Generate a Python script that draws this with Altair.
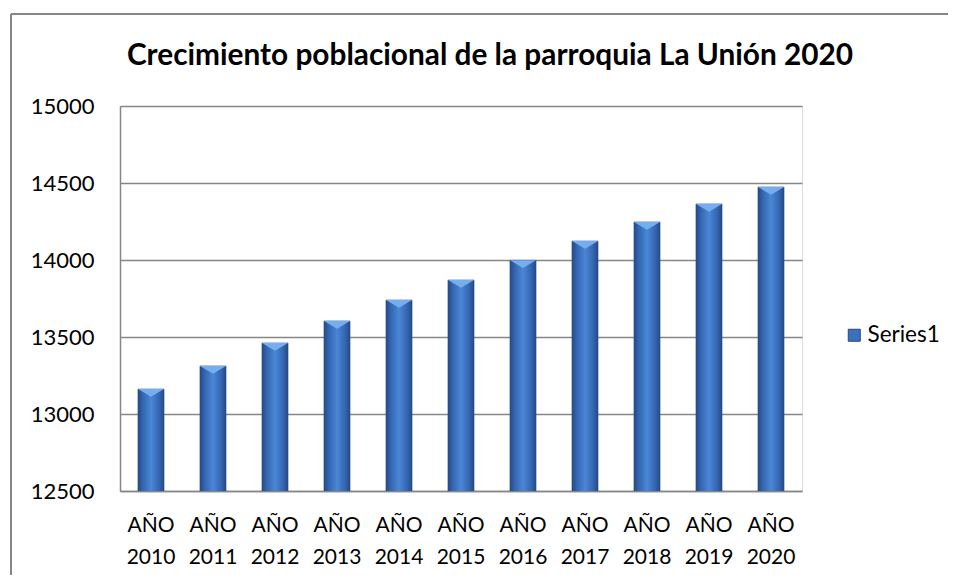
import altair as alt
import pandas as pd

years = ["AÑO 2010", "AÑO 2011", "AÑO 2012", "AÑO 2013", "AÑO 2014", "AÑO 2015",
         "AÑO 2016", "AÑO 2017", "AÑO 2018", "AÑO 2019", "AÑO 2020"]
values = [13162, 13312, 13461, 13604, 13740, 13870, 13998, 14123, 14247, 14364, 14474]
series = ["Series1"] * len(years)
y_ticks = [12500, 13000, 13500, 14000, 14500, 15000]
title_text = "Crecimiento poblacional de la parroquia La Unión 2020"

df = pd.DataFrame({"year": years, "value": values, "series": series})

FONT = "Lato"
W, H = 682, 385

x_enc = alt.X("year:N", sort=years, title=None,
              scale=alt.Scale(paddingInner=0.58, paddingOuter=0.29),
              axis=alt.Axis(labelAngle=0, labelExpr="split(datum.label, ' ')",
                            labelFontSize=21, labelFont=FONT, labelColor="#000000",
                            labelLineHeight=32, labelPadding=23, ticks=False,
                            domainColor="#868686", domainWidth=1.5, grid=False))
y_enc = alt.Y("value:Q", title=None,
              scale=alt.Scale(domain=[12500, 15000], nice=False, zero=False),
              axis=alt.Axis(values=y_ticks, format="d", labelFontSize=22, labelFont=FONT,
                            labelColor="#000000", labelPadding=26, ticks=False,
                            domainColor="#868686", domainWidth=1.5,
                            gridColor="#868686", gridWidth=1.5))

base = alt.Chart(df)

legend_bars = base.mark_bar(clip=True).encode(
    x=x_enc, y=y_enc,
    color=alt.Color("series:N", title=None,
                    scale=alt.Scale(range=["#3a70bd"]),
                    legend=alt.Legend(orient="none", legendX=723, legendY=218,
                                      symbolType="square", symbolSize=144,
                                      symbolStrokeColor="#24487f", symbolStrokeWidth=1,
                                      labelFontSize=22.5, labelFont=FONT, labelColor="#000000",
                                      labelOffset=2)),
)

grad = alt.Gradient(
    gradient="linear", x1=0, x2=1, y1=0, y2=0,
    stops=[alt.GradientStop(color="#254a85", offset=0),
           alt.GradientStop(color="#3465b0", offset=0.18),
           alt.GradientStop(color="#4a87d6", offset=0.5),
           alt.GradientStop(color="#3465b0", offset=0.82),
           alt.GradientStop(color="#254a85", offset=1)])

grad_bars = base.mark_bar(fill=grad, stroke="#2a4f8a", strokeWidth=0.6, clip=True).encode(
    x=x_enc, y=y_enc)

caps = base.mark_point(shape="M-1,0L1,0L0,0.6Z", size=676, filled=True,
                       fill="#74aeee", opacity=1, strokeWidth=0).encode(
    x=x_enc, y=y_enc)

title = alt.Chart(pd.DataFrame({"t": [title_text]})).mark_text(
    font=FONT, fontSize=29.8, fontWeight="bold", color="#000000",
    align="center", baseline="middle").encode(
    text="t:N", x=alt.value(370), y=alt.value(-50))

frame_top = alt.Chart(pd.DataFrame({"a": [0]})).mark_rule(
    color="#868686", strokeWidth=2).encode(
    x=alt.value(-109), x2=alt.value(840), y=alt.value(-92))
frame_left = alt.Chart(pd.DataFrame({"a": [0]})).mark_rule(
    color="#868686", strokeWidth=2).encode(
    x=alt.value(-109), y=alt.value(-92), y2=alt.value(480))

chart = alt.layer(frame_top, frame_left, legend_bars, grad_bars, caps, title).properties(
    width=W, height=H,
    autosize=alt.AutoSizeParams(type="none"),
    padding={"left": 112, "top": 98, "right": 146, "bottom": 84},
).configure_view(stroke="transparent", strokeWidth=0).configure(background="#ffffff")

chart.save("out.html", embed_options={"renderer": "svg", "actions": False})
